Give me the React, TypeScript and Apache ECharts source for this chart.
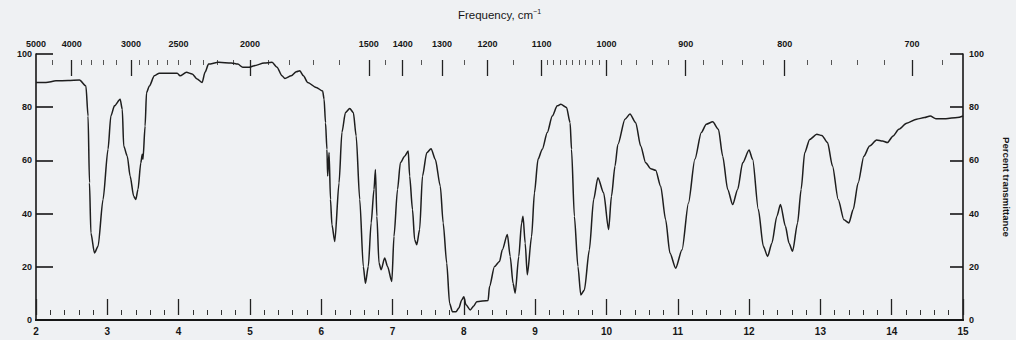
import React, { useEffect, useRef } from "react";
import * as echarts from "echarts";

// Wavelength (micrometres) and percent transmittance
const wavelength = [
  2.0, 2.14, 2.28, 2.45, 2.61, 2.7, 2.73, 2.75, 2.77, 2.82, 2.87, 2.94, 3.01, 3.05, 3.1, 3.18, 3.21, 3.23,
  3.28, 3.32, 3.37, 3.4, 3.43, 3.47, 3.49, 3.5, 3.53, 3.55, 3.59, 3.66, 3.73, 3.98, 4.02, 4.11, 4.19, 4.26,
  4.33, 4.37, 4.42, 4.56, 4.74, 4.83, 4.9, 4.99, 5.06, 5.2, 5.31, 5.38, 5.45, 5.49, 5.58, 5.65, 5.7, 5.75,
  5.81, 5.93, 6.02, 6.04, 6.06, 6.08, 6.09, 6.11, 6.13, 6.15, 6.19, 6.25, 6.29, 6.34, 6.4, 6.45, 6.49, 6.54,
  6.59, 6.62, 6.66, 6.7, 6.74, 6.76, 6.78, 6.81, 6.84, 6.89, 6.93, 6.99, 7.02, 7.07, 7.11, 7.17, 7.22, 7.24,
  7.28, 7.31, 7.34, 7.38, 7.42, 7.48, 7.54, 7.6, 7.67, 7.71, 7.76, 7.8, 7.84, 7.89, 7.93, 7.97, 8.0, 8.03,
  8.09, 8.14, 8.18, 8.34, 8.36, 8.43, 8.5, 8.54, 8.61, 8.65, 8.69, 8.72, 8.77, 8.81, 8.83, 8.86, 8.89, 8.95,
  8.99, 9.04, 9.1, 9.17, 9.24, 9.31, 9.36, 9.44, 9.49, 9.51, 9.55, 9.6, 9.64, 9.69, 9.76, 9.82, 9.88, 9.96,
  10.03, 10.07, 10.12, 10.16, 10.26, 10.33, 10.41, 10.48, 10.55, 10.62, 10.69, 10.76, 10.83, 10.89, 10.97,
  11.06, 11.15, 11.24, 11.33, 11.4, 11.49, 11.57, 11.63, 11.7, 11.77, 11.84, 11.91, 12.0, 12.05, 12.13, 12.2,
  12.26, 12.32, 12.39, 12.44, 12.51, 12.56, 12.61, 12.68, 12.73, 12.78, 12.85, 12.95, 13.02, 13.1, 13.17,
  13.25, 13.33, 13.4, 13.46, 13.53, 13.61, 13.69, 13.79, 13.87, 13.94, 14.02, 14.1, 14.21, 14.35, 14.46,
  14.54, 14.62, 14.76, 14.92, 15.0,
];
const transmittance = [
  89.3, 89.3, 89.9, 90.0, 90.2, 88.0, 76.7, 51.6, 32.7, 25.2, 27.7, 45.3, 64.2, 76.7, 80.5, 83.0, 79.2, 65.4,
  61.6, 54.1, 46.5, 45.3, 49.1, 59.1, 62.3, 60.4, 72.9, 85.5, 88.0, 91.8, 92.8, 92.8, 91.8, 93.1, 92.5, 90.6,
  89.3, 93.1, 96.2, 96.9, 96.6, 96.2, 95.0, 95.0, 95.6, 96.6, 96.9, 95.0, 91.8, 90.8, 91.8, 93.3, 93.7, 91.8,
  89.3, 87.4, 86.1, 83.0, 74.2, 64.2, 54.1, 63.0, 45.3, 35.8, 29.5, 51.6, 70.5, 78.0, 79.5, 78.0, 69.2, 45.3,
  20.1, 13.8, 20.1, 36.5, 49.1, 56.6, 39.0, 21.4, 18.9, 23.3, 20.1, 14.5, 31.4, 49.1, 59.1, 61.6, 63.5, 54.1,
  41.5, 30.2, 28.3, 34.0, 54.1, 62.9, 64.4, 60.4, 50.3, 36.5, 21.4, 6.3, 3.1, 3.1, 4.5, 7.5, 8.7, 5.7,
  3.8, 5.3, 6.9, 7.3, 12.6, 20.1, 22.0, 26.4, 32.1, 23.9, 13.8, 10.1, 23.9, 36.5, 39.0, 28.9, 17.0, 31.4,
  47.8, 60.4, 64.2, 70.5, 76.7, 80.5, 81.1, 79.9, 74.2, 64.2, 39.0, 20.1, 9.4, 11.3, 26.4, 45.3, 53.5, 47.8,
  34.0, 46.5, 57.9, 66.0, 75.5, 77.4, 74.2, 65.4, 59.1, 56.9, 56.3, 50.3, 37.7, 25.2, 19.5,
  26.4, 44.0, 60.4, 70.5, 73.6, 74.5, 71.7, 61.6, 49.1, 43.4, 49.1, 59.1, 63.9, 60.4, 41.5, 27.7,
  23.9, 28.9, 39.0, 43.4, 35.2, 28.9, 25.8, 36.5, 49.1, 62.9, 67.9, 69.8, 69.4, 66.7, 57.9,
  45.3, 37.7, 36.5, 41.5, 51.6, 61.6, 65.4, 67.7, 67.3, 66.7, 69.2, 71.7, 74.0, 75.5, 76.1,
  76.7, 75.7, 75.7, 76.1, 76.7,
];

// Axis definitions
const wavelengthMin = 2;
const wavelengthMax = 15;
const wavelengthStep = 1;
const percentMin = 0;
const percentMax = 100;
const percentStep = 20;
const frequencyLabels = [5000, 4000, 3000, 2500, 2000, 1500, 1400, 1300, 1200, 1100, 1000, 900, 800, 700];
const frequencyMajorTicks = [4000, 3000, 2000, 1500, 1400, 1300, 1200, 1100, 1000, 900, 800, 700];
const frequencyMinorTicks = [
  4500, 3800, 3600, 3400, 3200, 2900, 2800, 2700, 2600, 2500, 2400, 2300, 2200, 2100, 1900, 1800, 1700,
  1600, 1450, 1350, 1250, 1150, 1090, 1080, 1070, 1060, 1050, 1040, 1030, 1020, 1010, 980, 960, 940, 920,
  880, 860, 840, 820, 780, 760, 740, 720, 680,
];

const BG = "#eff1f3";
const INK = "#161616";
const FONT = "'Liberation Sans', Arial, sans-serif";

export default function App() {
  const ref = useRef<HTMLDivElement>(null);

  useEffect(() => {
    document.body.style.margin = "0";
    document.body.style.background = BG;
    const chart = echarts.init(ref.current!, null, { renderer: "svg" });
    const toWl = (f: number) => 10000 / f;
    const baseX = {
      type: "value" as const,
      min: wavelengthMin,
      max: wavelengthMax,
      splitLine: { show: false },
    };
    chart.setOption({
      animation: false,
      backgroundColor: BG,
      grid: { left: 36, right: 53, top: 54, bottom: 20, outerBoundsMode: "none" },
      xAxis: [
        {
          ...baseX,
          position: "bottom",
          interval: wavelengthStep,
          axisLine: { show: true, lineStyle: { color: INK, width: 2 } },
          axisTick: { show: false },
          axisLabel: { color: INK, fontFamily: FONT, fontWeight: "bold", fontSize: 10, margin: 6 },
        },
        {
          ...baseX,
          position: "top",
          axisLine: { show: true, lineStyle: { color: INK, width: 2 } },
          axisTick: { show: false },
          axisLabel: {
            customValues: frequencyLabels.map(toWl),
            formatter: (v: number) => String(Math.round(10000 / v)),
            color: INK,
            fontFamily: FONT,
            fontWeight: "bold",
            fontSize: 9,
            margin: 6,
          },
          name: "Frequency, cm{sup|\u22121}",
          nameLocation: "middle",
          nameGap: 32,
          nameTextStyle: {
            color: INK,
            fontFamily: FONT,
            fontSize: 11.5,
            lineHeight: 14,
            rich: { sup: { fontSize: 7, verticalAlign: "top", lineHeight: 14, color: INK, fontFamily: FONT } },
          },
        },
        {
          ...baseX,
          position: "top",
          offset: -6,
          axisLine: { show: false },
          axisLabel: { show: false },
          axisTick: {
            show: true,
            inside: true,
            length: 16,
            customValues: frequencyMajorTicks.map(toWl),
            lineStyle: { color: "#222", width: 1.3 },
          },
        },
        {
          ...baseX,
          position: "top",
          offset: -6,
          axisLine: { show: false },
          axisLabel: { show: false },
          axisTick: {
            show: true,
            inside: true,
            length: 5,
            customValues: frequencyMinorTicks.map(toWl),
            lineStyle: { color: "#555", width: 1 },
          },
        },
        {
          ...baseX,
          position: "bottom",
          offset: -5,
          interval: wavelengthStep,
          axisLine: { show: false },
          axisLabel: { show: false },
          axisTick: { show: true, inside: true, length: 16, lineStyle: { color: "#222", width: 1.3 } },
          minorTick: { show: true, splitNumber: 5, length: 5, lineStyle: { color: "#333", width: 1 } },
        },
      ],
      yAxis: [
        {
          type: "value",
          position: "left",
          min: percentMin,
          max: percentMax,
          interval: percentStep,
          splitLine: { show: false },
          axisLine: { show: true, lineStyle: { color: INK, width: 1.6 } },
          axisTick: { show: true, inside: true, length: 17, lineStyle: { color: INK, width: 1.6 } },
          axisLabel: { color: INK, fontFamily: FONT, fontWeight: "bold", fontSize: 9, margin: 4 },
        },
        {
          type: "value",
          position: "right",
          min: percentMin,
          max: percentMax,
          interval: percentStep,
          splitLine: { show: false },
          axisLine: { show: true, lineStyle: { color: INK, width: 1.6 } },
          axisTick: { show: true, inside: true, length: 13, lineStyle: { color: INK, width: 1.6 } },
          axisLabel: { color: INK, fontFamily: FONT, fontWeight: "bold", fontSize: 9, margin: 6 },
          name: "Percent transmittance",
          nameLocation: "middle",
          nameRotate: -90,
          nameGap: 38,
          nameTextStyle: { color: INK, fontFamily: FONT, fontWeight: "bold", fontSize: 9.5 },
        },
      ],
      series: [
        {
          type: "line",
          xAxisIndex: 0,
          yAxisIndex: 0,
          data: wavelength.map((w, i) => [w, transmittance[i]]),
          showSymbol: false,
          smooth: 0.25,
          smoothMonotone: "x",
          lineStyle: { color: "#1e1e1e", width: 1.5 },
        },
      ],
    });
    return () => chart.dispose();
  }, []);

  return (
    <div
      ref={ref}
      style={{ position: "fixed", left: 0, top: 0, width: 1016, height: 340, background: BG }}
    />
  );
}
